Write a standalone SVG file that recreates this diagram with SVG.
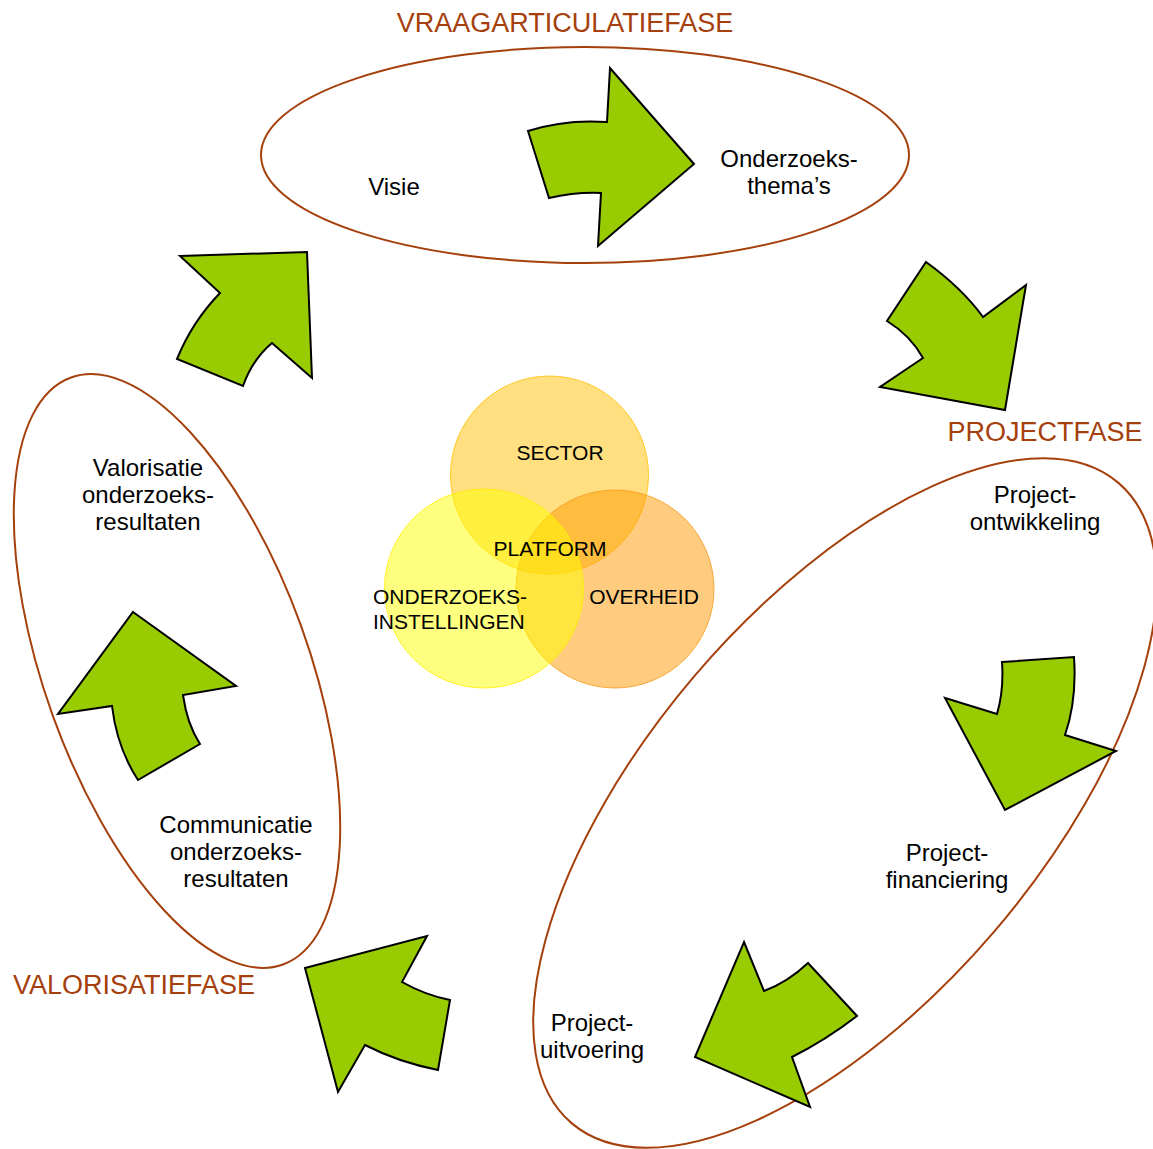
<svg xmlns="http://www.w3.org/2000/svg" width="1153" height="1149" viewBox="0 0 1153 1149">
<style>
.phase{fill:none;stroke:#A5400C;stroke-width:2}
.ptitle{font-family:"Liberation Sans",Arial,sans-serif;font-size:27px;fill:#A5400C;text-anchor:middle}
.lbl{font-family:"Liberation Sans",Arial,sans-serif;font-size:24px;fill:#000;text-anchor:middle}
.clbl{font-family:"Liberation Sans",Arial,sans-serif;font-size:21px;fill:#000}
.arrow{fill:#99CC00;stroke:#000;stroke-width:2;stroke-linejoin:miter}
</style>
<rect width="1153" height="1149" fill="#fff"/>

<g id="phase-vraag">
<ellipse class="phase" cx="585" cy="155" rx="324" ry="108"/>
<text class="ptitle" x="565" y="32">VRAAGARTICULATIEFASE</text>
<text class="lbl" x="394" y="195">Visie</text>
<text class="lbl" x="789" y="167">Onderzoeks-</text>
<text class="lbl" x="789" y="194">thema’s</text>
</g>

<g id="phase-project">
<ellipse class="phase" cx="845" cy="803" rx="197" ry="421" transform="rotate(40.5 845 803)"/>
<text class="ptitle" x="1045" y="441">PROJECTFASE</text>
<text class="lbl" x="1035" y="503">Project-</text>
<text class="lbl" x="1035" y="530">ontwikkeling</text>
<text class="lbl" x="947" y="861">Project-</text>
<text class="lbl" x="947" y="888">financiering</text>
<text class="lbl" x="592" y="1031">Project-</text>
<text class="lbl" x="592" y="1058">uitvoering</text>
</g>

<g id="phase-valorisatie">
<ellipse class="phase" cx="177" cy="671" rx="132" ry="312" transform="rotate(-19.85 177 671)"/>
<text class="ptitle" x="134" y="994">VALORISATIEFASE</text>
<text class="lbl" x="148" y="476">Valorisatie</text>
<text class="lbl" x="148" y="503">onderzoeks-</text>
<text class="lbl" x="148" y="530">resultaten</text>
<text class="lbl" x="236" y="833">Communicatie</text>
<text class="lbl" x="236" y="860">onderzoeks-</text>
<text class="lbl" x="236" y="887">resultaten</text>
</g>

<g id="platform">
<circle cx="549.5" cy="475" r="99" fill="#FFC000" fill-opacity="0.5" stroke="#FFC000" stroke-opacity="0.8"/>
<circle cx="615" cy="589" r="99" fill="#FF9900" fill-opacity="0.5" stroke="#F59A1A" stroke-opacity="0.8"/>
<circle cx="484" cy="588.5" r="99.5" fill="#FFFF00" fill-opacity="0.5" stroke="#FFEE00" stroke-opacity="0.8"/>
<text class="clbl" x="560" y="460" text-anchor="middle">SECTOR</text>
<text class="clbl" x="550" y="556" text-anchor="middle">PLATFORM</text>
<text class="clbl" x="373" y="604">ONDERZOEKS-</text>
<text class="clbl" x="373" y="629">INSTELLINGEN</text>
<text class="clbl" x="644" y="604" text-anchor="middle">OVERHEID</text>
</g>

<g id="connectors">
<path class="arrow" d="M528,131 Q565,119 607,122 L610,68 L694,164 L598,246 L601,193 Q575,192 549,198 Z"/>
<path class="arrow" d="M926,262 Q962,288 983,317 L1026,285 L1005,410 L880,387 L923,358 Q910,335 887,321 Z"/>
<path class="arrow" d="M180,256 L307,252 L312,378 L272,343 Q252,360 243,386 L177,359 Q192,322 220,293 Z"/>
<path class="arrow" d="M133,612 L236,686 L183,695 Q187,724 200,744 L138,780 Q117,748 112,706 L58,714 Z"/>
<path class="arrow" d="M1002,662 L1074,657 Q1077,700 1065,735 L1116,751 L1005,810 L945,698 L997,714 Q1004,690 1002,662 Z"/>
<path class="arrow" d="M744,942 L764,991 Q788,982 808,963 L857,1016 Q826,1040 792,1057 L810,1107 L695,1057 Z"/>
<path class="arrow" d="M305,968 L427,936 L402,982 Q425,995 450,1000 L438,1070 Q398,1062 365,1045 L338,1092 Z"/>
</g>
</svg>
